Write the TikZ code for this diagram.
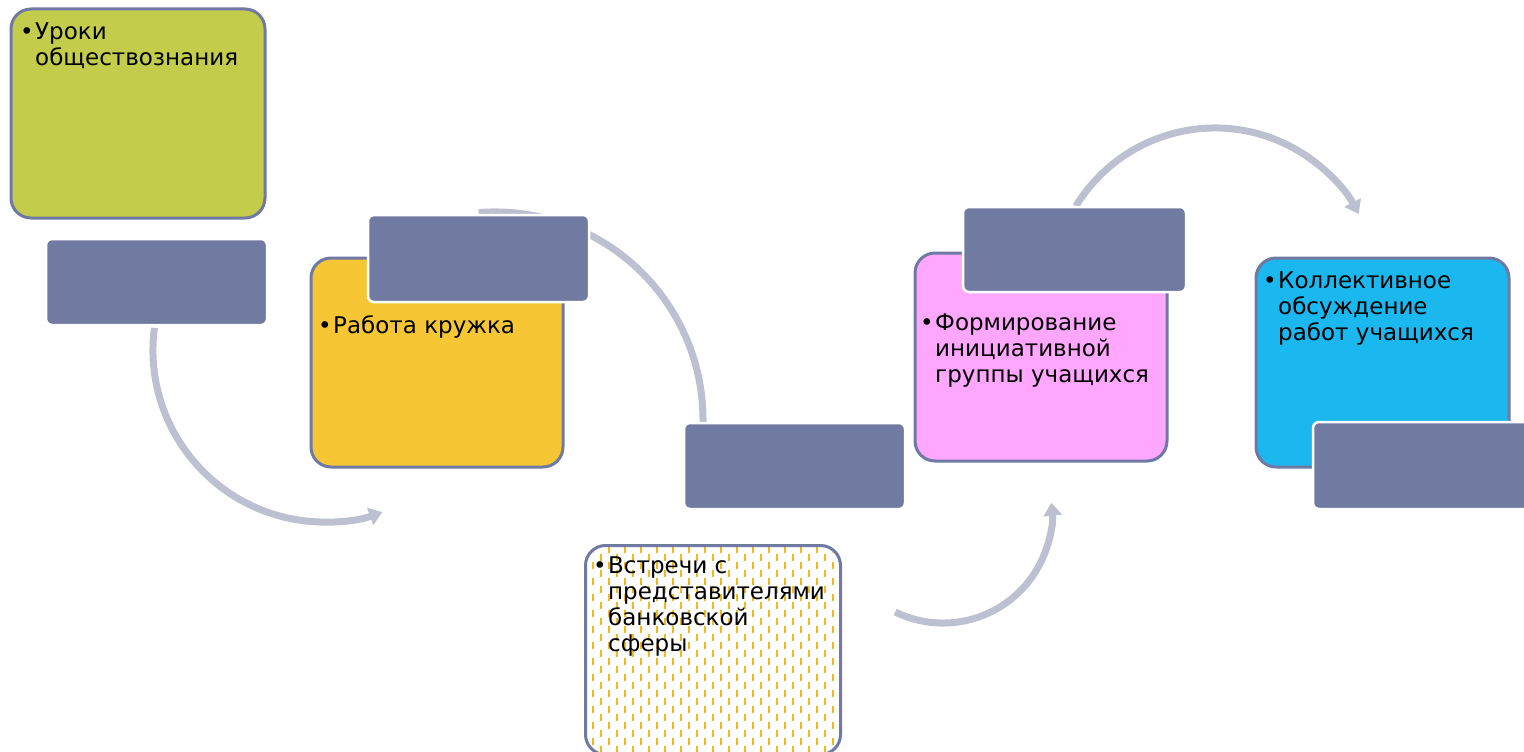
\documentclass[tikz,border=0pt]{standalone}
\usepackage{fontspec}
\setmainfont{DejaVu Sans}
\usetikzlibrary{arrows.meta}
\definecolor{boxline}{HTML}{7079A3}
\definecolor{greyfill}{HTML}{717BA1}
\definecolor{arrowc}{HTML}{BDC0D1}
\definecolor{greenf}{HTML}{C4CD4B}
\definecolor{yellowf}{HTML}{F6C634}
\definecolor{pinkf}{HTML}{FFA6FF}
\definecolor{bluef}{HTML}{1BB8EF}
\definecolor{dashc}{HTML}{F4B918}
\newcommand\bulletmark{\makebox[15pt][l]{•}}
\newcommand\indentmark{\hspace*{15pt}}
\tikzset{
  card/.style={draw=boxline, line width=3pt, rounded corners=20pt, inner sep=0pt},
  greybox/.style={fill=greyfill, draw=white, line width=2.5pt, rounded corners=6pt, inner sep=0pt},
  flow/.style={draw=arrowc, line width=7pt},
  flowtip/.style={flow, -{Triangle[length=13pt,width=18pt]}},
  lbl/.style={anchor=base west, inner sep=0pt, font=\fontsize{23pt}{26pt}\selectfont}
}
\begin{document}
\begin{tikzpicture}[x=1pt,y=-1pt]
\useasboundingbox (0,0) rectangle (1524,752);
\clip (0,0) rectangle (1524,752);
% connectors (behind boxes)
\coordinate (a1s) at (154.4,327.9);
\coordinate (a2s) at (478.7,212.6);
\coordinate (a3s) at (895.2,612);
\coordinate (a4s) at (1075.8,206.3);
\draw[flowtip] (a1s) arc[start angle=187.4, end angle=70.5, radius=172];
\draw[flow] (a2s) arc[start angle=265.5, end angle=362, radius=208];
\draw[flowtip] (a3s) arc[start angle=116, end angle=-6, radius=109];
\draw[flowtip] (a4s) arc[start angle=211.3, end angle=331.8, radius=163];
% main cards
\node[card, fill=greenf, minimum width=254pt, minimum height=209pt] (b1) at (138,113.5) {};
\node[card, fill=yellowf, minimum width=252pt, minimum height=209pt] (b2) at (437,362.5) {};
\node[card, draw=none, fill=white, minimum width=252pt, minimum height=206pt] (b3) at (713,650) {};
\begin{scope}
  \clip[rounded corners=20pt] (587,547) rectangle (839,753);
  \foreach \i in {0,...,31} {
    \pgfmathsetmacro{\xx}{592.7+8*\i}
    \pgfmathsetmacro{\yy}{546-8*mod(\i,2)}
    \draw[dashc, line width=2.2pt, dash pattern=on 7pt off 9pt] (\xx,\yy) -- (\xx,760);
  }
\end{scope}
\draw[boxline, line width=3pt, rounded corners=20pt] (b3.south west) rectangle (b3.north east);
\node[card, fill=pinkf, minimum width=252pt, minimum height=208pt] (b4) at (1041,357) {};
\node[card, fill=bluef, minimum width=253pt, minimum height=209pt] (b5) at (1382.5,362.5) {};
% grey tabs
\node[greybox, minimum width=221pt, minimum height=86pt] (g1) at (156.5,282) {};
\node[greybox, minimum width=221pt, minimum height=87pt] (g2) at (478.5,258.5) {};
\node[greybox, minimum width=221pt, minimum height=86pt] (g3) at (794.5,466) {};
\node[greybox, minimum width=223pt, minimum height=85pt] (g4) at (1074.5,249.5) {};
\node[greybox, minimum width=221pt, minimum height=87pt] (g5) at (1423.5,465.5) {};
% texts
\node[lbl] (t1) at (20,40) {\begin{tabular}[t]{@{}l@{}}\bulletmark Уроки\\ \indentmark обществознания\end{tabular}};
\node[lbl] (t2) at (318,333) {\begin{tabular}[t]{@{}l@{}}\bulletmark Работа кружка\end{tabular}};
\node[lbl] (t3) at (593,573) {\begin{tabular}[t]{@{}l@{}}\bulletmark Встречи с\\ \indentmark представителями\\ \indentmark банковской\\ \indentmark сферы\end{tabular}};
\node[lbl] (t4) at (920,330) {\begin{tabular}[t]{@{}l@{}}\bulletmark Формирование\\ \indentmark инициативной\\ \indentmark группы учащихся\end{tabular}};
\node[lbl] (t5) at (1263,288) {\begin{tabular}[t]{@{}l@{}}\bulletmark Коллективное\\ \indentmark обсуждение\\ \indentmark работ учащихся\end{tabular}};
\end{tikzpicture}
\end{document}
